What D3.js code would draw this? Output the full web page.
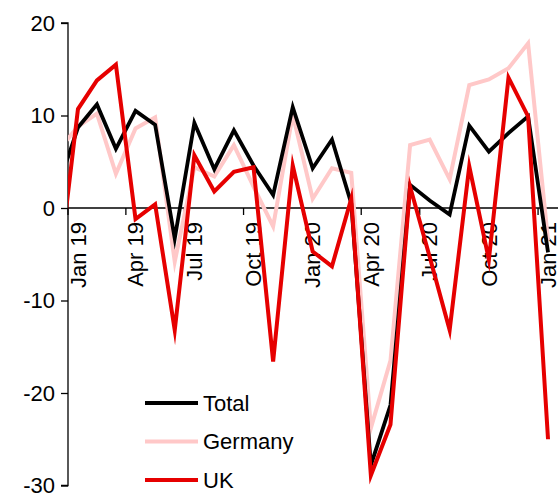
<!DOCTYPE html>
<html>
<head>
<meta charset="utf-8">
<script src="https://cdn.jsdelivr.net/npm/d3@7"></script>
<style>
  html, body { margin: 0; padding: 0; background: #fff; }
  svg { display: block; font-family: Arial, "Liberation Sans", sans-serif; }
</style>
</head>
<body>
<svg id="chart" width="560" height="495"></svg>
<script>
// Monthly series, Dec 2018 to Jan 2021 (% y/y)
const months = ["2018-12","2019-01","2019-02","2019-03","2019-04","2019-05","2019-06","2019-07","2019-08","2019-09","2019-10","2019-11","2019-12",
                "2020-01","2020-02","2020-03","2020-04","2020-05","2020-06","2020-07","2020-08","2020-09","2020-10","2020-11","2020-12","2021-01"];
const total   = [2.3, 8.7, 11.2, 6.4, 10.5, 9.0, -3.3, 9.2, 4.2, 8.4, 4.6, 1.4, 10.9, 4.3, 7.4, 0.5, -27.8, -21.3, 2.5, 0.8, -0.7, 8.9, 6.1, 8.1, 9.9, -4.8];
const germany = [6.2, 8.8, 10.2, 3.7, 8.6, 9.8, -5.8, 4.4, 3.4, 6.8, 2.3, -2.0, 10.1, 1.0, 4.3, 3.8, -23.8, -16.5, 6.8, 7.4, 3.1, 13.3, 13.9, 15.1, 17.8, -3.5];
const uk      = [-7.5, 10.7, 13.8, 15.5, -1.2, 0.4, -13.2, 5.7, 1.8, 3.9, 4.4, -16.6, 4.6, -4.7, -6.3, 1.0, -28.9, -23.4, 2.3, -5.3, -13.2, 4.5, -5.6, 14.1, 9.9, -25.0];

const seriesNames = ["Total", "Germany", "UK"];
const tickMonths = ["2019-01","2019-04","2019-07","2019-10","2020-01","2020-04","2020-07","2020-10","2021-01"];
const tickLabels = ["Jan 19","Apr 19","Jul 19","Oct 19","Jan 20","Apr 20","Jul 20","Oct 20","Jan 21"];
const yTicks = [20, 10, 0, -10, -20, -30];

const colors = { Total: "#000000", Germany: "#ffc8c8", UK: "#e60000" };
const widths = { Total: 3.8, Germany: 4, UK: 4 };

const svg = d3.select("#chart");
const parseMonth = d3.timeParse("%Y-%m");
const monthStart = s => parseMonth(s);
const monthMid = s => {
  const a = parseMonth(s), b = d3.timeMonth.offset(a, 1);
  return new Date((a.getTime() + b.getTime()) / 2);
};

const plotLeft = 68, plotRight = 558, plotTop = 23, plotBottom = 485.5;
const x = d3.scaleTime()
  .domain([parseMonth("2019-01"), parseMonth("2021-02")])
  .range([plotLeft, plotRight]);
const y = d3.scaleLinear().domain([-30, 20]).range([plotBottom, plotTop]);

const fontSize = 22;

// clip so lines start at the vertical axis
svg.append("defs").append("clipPath").attr("id", "plotClip")
  .append("rect").attr("x", plotLeft).attr("y", 0).attr("width", plotRight - plotLeft + 10).attr("height", 495);

// y axis (plain hyphen for negatives)
const yAxis = svg.append("g").attr("transform", `translate(${plotLeft},0)`)
  .call(d3.axisLeft(y).tickValues(yTicks).tickSize(7).tickPadding(6).tickFormat(d => String(d)));
yAxis.select(".domain").attr("stroke", "#000").attr("stroke-width", 1.3).attr("d", `M-7,${y(20)}H0V${y(-30)}H-7`);
yAxis.selectAll(".tick line").attr("stroke", "#000").attr("stroke-width", 1.3);
yAxis.selectAll(".tick text").attr("font-size", fontSize).attr("fill", "#000")
  .attr("font-family", "Arial, 'Liberation Sans', sans-serif");

// x axis along zero
const xg = svg.append("g").attr("transform", `translate(0,${y(0)})`);
xg.append("line").attr("x1", plotLeft).attr("x2", plotRight).attr("stroke", "#000").attr("stroke-width", 1.3);
xg.selectAll("line.tk").data(tickMonths).join("line").attr("class", "tk")
  .attr("x1", d => x(monthStart(d))).attr("x2", d => x(monthStart(d)))
  .attr("y1", 0).attr("y2", 7).attr("stroke", "#000").attr("stroke-width", 1.3);
xg.selectAll("text").data(tickMonths).join("text")
  .attr("transform", d => `translate(${x(monthMid(d))},14) rotate(-90)`)
  .attr("text-anchor", "end").attr("dy", "0.35em")
  .attr("font-size", fontSize).attr("fill", "#000")
  .text((d, i) => tickLabels[i]);

// lines
const data = { Total: total, Germany: germany, UK: uk };
const line = d3.line().x(d => x(monthMid(d.m))).y(d => y(d.v));
const linesG = svg.append("g").attr("clip-path", "url(#plotClip)");
["Germany", "Total", "UK"].forEach(name => {
  const pts = months.map((m, i) => ({ m, v: data[name][i] }));
  linesG.append("path").datum(pts)
    .attr("d", line).attr("fill", "none")
    .attr("stroke", colors[name]).attr("stroke-width", widths[name])
    .attr("stroke-linejoin", "miter").attr("stroke-miterlimit", 10);
});

// legend
const lg = svg.append("g");
seriesNames.forEach((name, i) => {
  const ly = 403 + i * 38.5;
  lg.append("line").attr("x1", 145).attr("x2", 198).attr("y1", ly).attr("y2", ly)
    .attr("stroke", colors[name]).attr("stroke-width", 4);
  lg.append("text").attr("x", 203).attr("y", ly).attr("dy", "0.35em")
    .attr("font-size", fontSize).attr("fill", "#000").text(name);
});
</script>
</body>
</html>
